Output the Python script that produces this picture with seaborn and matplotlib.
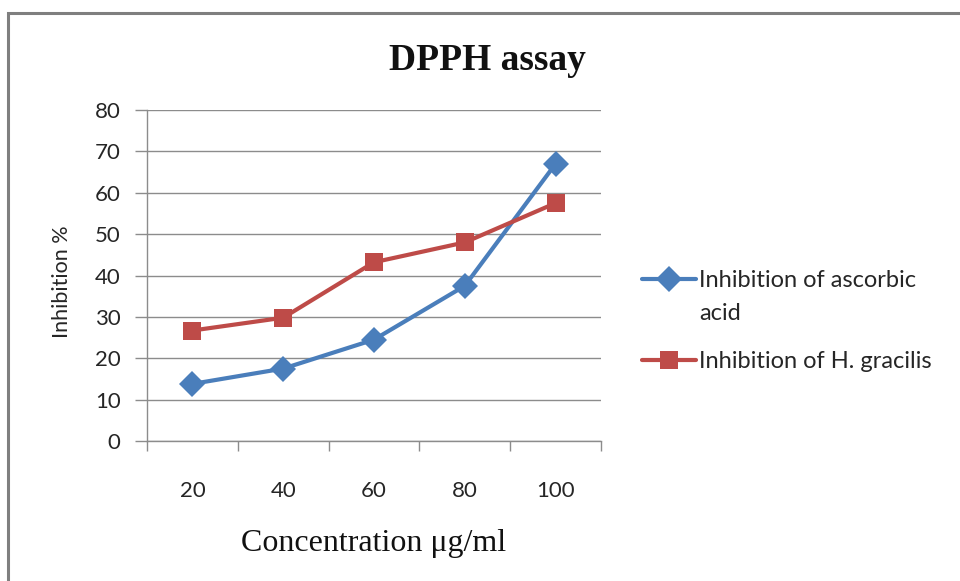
import matplotlib
matplotlib.use("Agg")
import matplotlib.pyplot as plt
from matplotlib.lines import Line2D
from matplotlib.patches import Rectangle
from matplotlib.text import Annotation
import seaborn as sns
import pandas as pd

concentrations = ["20", "40", "60", "80", "100"]
ascorbic = [13.8, 17.5, 24.5, 37.5, 67.0]
gracilis = [26.7, 29.8, 43.2, 48.0, 57.5]
series_names = ["Inhibition of ascorbic acid", "Inhibition of H. gracilis"]
legend_lines = [["Inhibition of ascorbic", "acid"], ["Inhibition of H. gracilis"]]
y_ticks = [0, 10, 20, 30, 40, 50, 60, 70, 80]

df = pd.DataFrame({
    "Concentration": concentrations * 2,
    "Inhibition": ascorbic + gracilis,
    "Series": [series_names[0]] * len(concentrations) + [series_names[1]] * len(concentrations),
})

sns.set_theme(style="white")
plt.rcParams["font.family"] = ["Lato", "DejaVu Sans"]

BLUE = "#4A7EBB"
RED = "#BE4B48"
GRID = "#8C8C8C"
TXT = "#262626"
MS = {"D": 13.0, "s": 13.0}
LW = 3.0
LEG_FS = 17

fig = plt.figure(figsize=(9.6, 5.81), dpi=100)
ax = fig.add_axes([147 / 960, 1 - 441 / 581, (601 - 147) / 960, (441 - 110) / 581])

sns.pointplot(data=df, x="Concentration", y="Inhibition", hue="Series",
              order=concentrations, hue_order=series_names,
              palette={series_names[0]: BLUE, series_names[1]: RED},
              markers=["D", "s"], linestyles=["-", "-"], errorbar=None,
              legend=False, ax=ax, markersize=12, linewidth=LW)

for ln in ax.lines:
    m = ln.get_marker()
    if m in MS:
        ln.set_markersize(MS[m])
    ln.set_markeredgewidth(0)

ax.set_xlim(-0.5, len(concentrations) - 0.5)
ax.set_ylim(0, 80)
ax.set_yticks(y_ticks)
ax.yaxis.grid(True, color=GRID, linewidth=1.0)
ax.xaxis.grid(False)
ax.set_axisbelow(True)

ax.set_xticks(range(len(concentrations)))
ax.set_xticklabels(concentrations)
ax.tick_params(axis="x", which="major", length=0, pad=29, labelsize=16, colors=TXT)
ax.set_xticks([i - 0.5 for i in range(len(concentrations) + 1)], minor=True)
ax.tick_params(axis="x", which="minor", length=7, width=1, color=GRID, direction="out", bottom=True)
ax.tick_params(axis="y", length=9, width=1, color=GRID, direction="out", left=True,
               labelsize=16, colors=TXT, pad=10)

for s in ["top", "right"]:
    ax.spines[s].set_visible(False)
for s in ["left", "bottom"]:
    ax.spines[s].set_color(GRID)
    ax.spines[s].set_linewidth(1.0)

ax.set_xlabel("Concentration \u03bcg/ml", family=["Liberation Serif", "DejaVu Serif"],
              fontsize=23, labelpad=20, color="#111111")
ax.set_ylabel("Inhibition %", fontsize=15.5, color=TXT, va="center")
ax.yaxis.set_label_coords((62 - 147) / 454, 0.48)

fig.text(487 / 960, 1 - 61 / 581, "DPPH assay", family=["Liberation Serif", "DejaVu Serif"],
         fontsize=27, fontweight="bold", ha="center", va="center", color="#111111")

handles = [
    Line2D([], [], color=BLUE, marker="D", markersize=MS["D"], linewidth=LW, markeredgewidth=0),
    Line2D([], [], color=RED, marker="s", markersize=MS["s"], linewidth=LW, markeredgewidth=0),
]
leg = fig.legend(handles, [l[0] for l in legend_lines], loc="upper left",
                 bbox_to_anchor=(642 / 960, 1 - 270 / 581), frameon=False,
                 fontsize=LEG_FS, handlelength=2.3, handletextpad=0.12,
                 labelspacing=2.55, borderaxespad=0, borderpad=0)
for t in leg.get_texts():
    t.set_color(TXT)
# continuation line of the first (wrapped) legend label, drawn after the legend
cont = Annotation(legend_lines[0][1], xy=(0, 0.5), xycoords=leg.get_texts()[0],
                  xytext=(0, -23.8), textcoords="offset points", ha="left", va="center",
                  fontsize=LEG_FS, color=TXT)
cont.set_zorder(leg.get_zorder() + 1)
fig.add_artist(cont)

fig.patches.append(Rectangle((8 / 960, -0.1), 1.2, 1 - 13 / 581 + 0.1, transform=fig.transFigure,
                             fill=False, edgecolor="#7F7F7F", linewidth=2.2, zorder=0))

fig.savefig("out.png", dpi=100, facecolor="white")
